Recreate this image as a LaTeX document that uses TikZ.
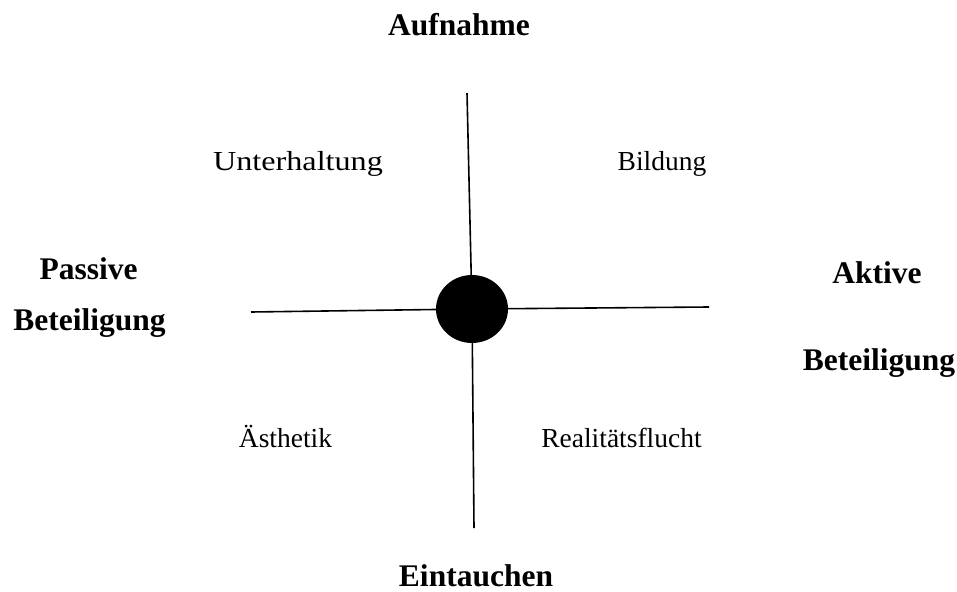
\documentclass[tikz,border=0pt]{standalone}
\usepackage{fontspec}
\setmainfont{Liberation Serif}
\begin{document}
\begin{tikzpicture}[x=1pt,y=-1pt,
  axis/.style={line width=1.6pt,black},
  pole/.style={font=\fontsize{31.5}{36}\selectfont\bfseries,anchor=base,inner sep=0pt},
  quad/.style={font=\fontsize{27.5}{32}\selectfont,anchor=base,inner sep=0pt}]
\useasboundingbox (0,0) rectangle (957,591);
\coordinate (top) at (467,93);
\coordinate (bot) at (474,528);
\coordinate (lft) at (251,312);
\coordinate (rgt) at (709,307);
\coordinate (c) at (472,309);
\draw[axis] (top) -- (c);
\draw[axis] (bot) -- (c);
\draw[axis] (lft) -- (c);
\draw[axis] (rgt) -- (c);
\fill (c) ellipse [x radius=36, y radius=34];
\node[pole] (auf) at (459,36) {Aufnahme};
\node[pole] (ein) at (476,586) {Eintauchen};
\node[pole] (pas) at (88.5,279) {Passive};
\node[pole] (pasb) at (89.5,330) {Beteiligung};
\node[pole] (akt) at (877,283) {Aktive};
\node[pole] (aktb) at (879,370) {Beteiligung};
\node[quad,xscale=1.17] (unt) at (298,170) {Unterhaltung};
\node[quad] (bil) at (662,170) {Bildung};
\node[quad] (aes) at (285.5,447) {Ästhetik};
\node[quad] (rea) at (621.5,447) {Realitätsflucht};
\end{tikzpicture}
\end{document}
